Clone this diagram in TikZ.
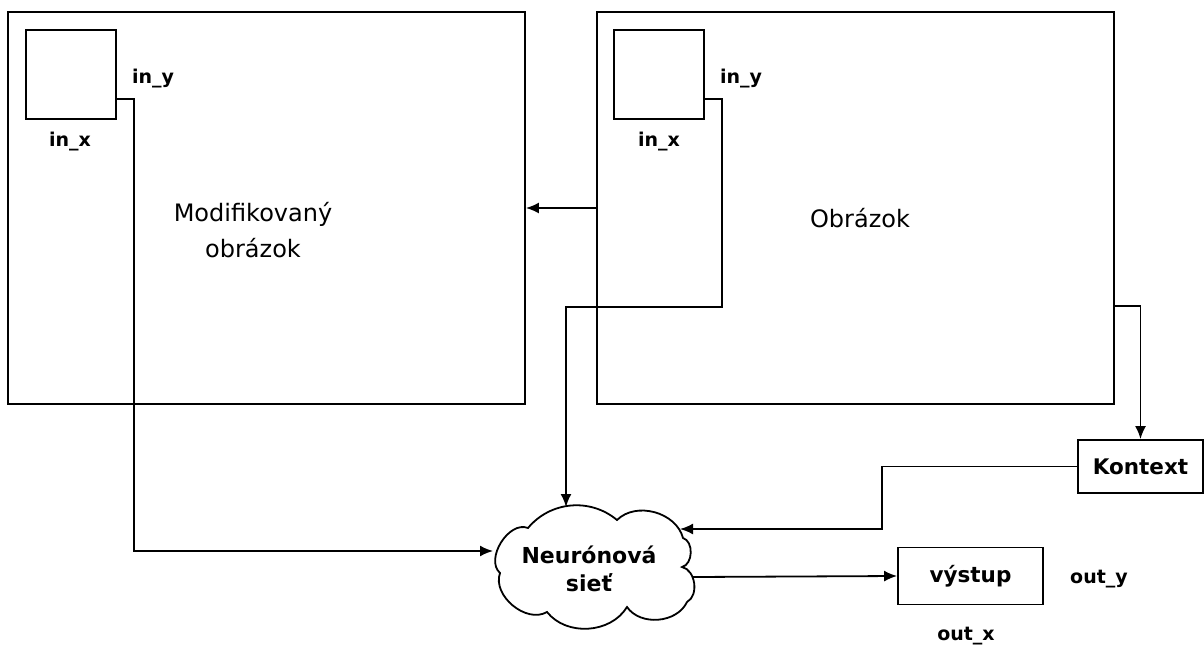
\documentclass[tikz,border=0pt]{standalone}
\usepackage{fontspec}
\setmainfont{DejaVu Sans}
\usetikzlibrary{arrows.meta}
\tikzset{
  box/.style={draw, line width=1.8pt, inner sep=0pt},
  arr/.style={draw, line width=1.8pt, -{Latex[length=13pt,width=11pt]}},
  small/.style={font=\bfseries\fontsize{19}{22}\selectfont, inner sep=0pt},
  boxtext/.style={font=\bfseries\fontsize{21.5}{24}\selectfont},
  big/.style={font=\fontsize{24}{36}\selectfont, inner sep=0pt, align=center},
}
\begin{document}
\begin{tikzpicture}[x=1pt,y=-1pt]
\useasboundingbox (0,0) rectangle (1204,650);
% big boxes
\node[box, minimum width=517pt, minimum height=392pt] (lbig) at (266.5,208) {};
\node[box, minimum width=517pt, minimum height=392pt] (rbig) at (855.5,208) {};
% small squares
\node[box, minimum width=90pt, minimum height=89pt] (lsq) at (71,74.5) {};
\node[box, minimum width=90pt, minimum height=89pt] (rsq) at (659,74.5) {};
% labels
\node[small] (liny) at (153,79) {in\_y};
\node[small] (linx) at (70,142) {in\_x};
\node[small] (riny) at (741,79) {in\_y};
\node[small] (rinx) at (659,142) {in\_x};
\node[big] (lt) at (253,230) {Modifikovaný\\obrázok};
\node[big] (rt) at (860,218) {Obrázok};
% cloud
\draw[line width=1.8pt, fill=white] (500,573) to[bend left=80] (528,528) to[bend left=45] (617,520)
  to[bend left=60] (683,538) to[bend left=75] (682,567) to[bend left=70] (687,602)
  to[bend left=60] (627,607) to[bend left=55] (547,612) to[bend left=70] cycle;
\node[small, align=center, font=\bfseries\fontsize{22}{28}\selectfont] (nn) at (589,569) {Neurónová\\sieť};
\coordinate (nnW) at (493,551);
\coordinate (nnN) at (566,507);
\coordinate (nnE) at (680,529);
\coordinate (nnO) at (693,577);
% Kontext and vystup
\node[box, boxtext, minimum width=125pt, minimum height=53pt] (ktx) at (1140.5,466.5) {Kontext};
\node[box, boxtext, minimum width=145pt, minimum height=57pt] (vys) at (970.5,576) {výstup};
\node[small] (outy) at (1099,579) {out\_y};
\node[small] (outx) at (966,636) {out\_x};
% connectors
\draw[arr] ([yshift=21pt]lsq.south east) -- ++(17,0) |- (nnW);
\draw[arr] ([yshift=21pt]rsq.south east) -- ++(17,0) -- ++(0,208) -| (nnN);
\draw[arr] (rbig.west) -- (lbig.east);
\draw[arr] ([yshift=-98pt]rbig.east) -| (ktx.north);
\draw[arr] (ktx.west) -| (882,529) -- (nnE);
\draw[arr] (nnO) -- (vys.west);
\end{tikzpicture}
\end{document}
